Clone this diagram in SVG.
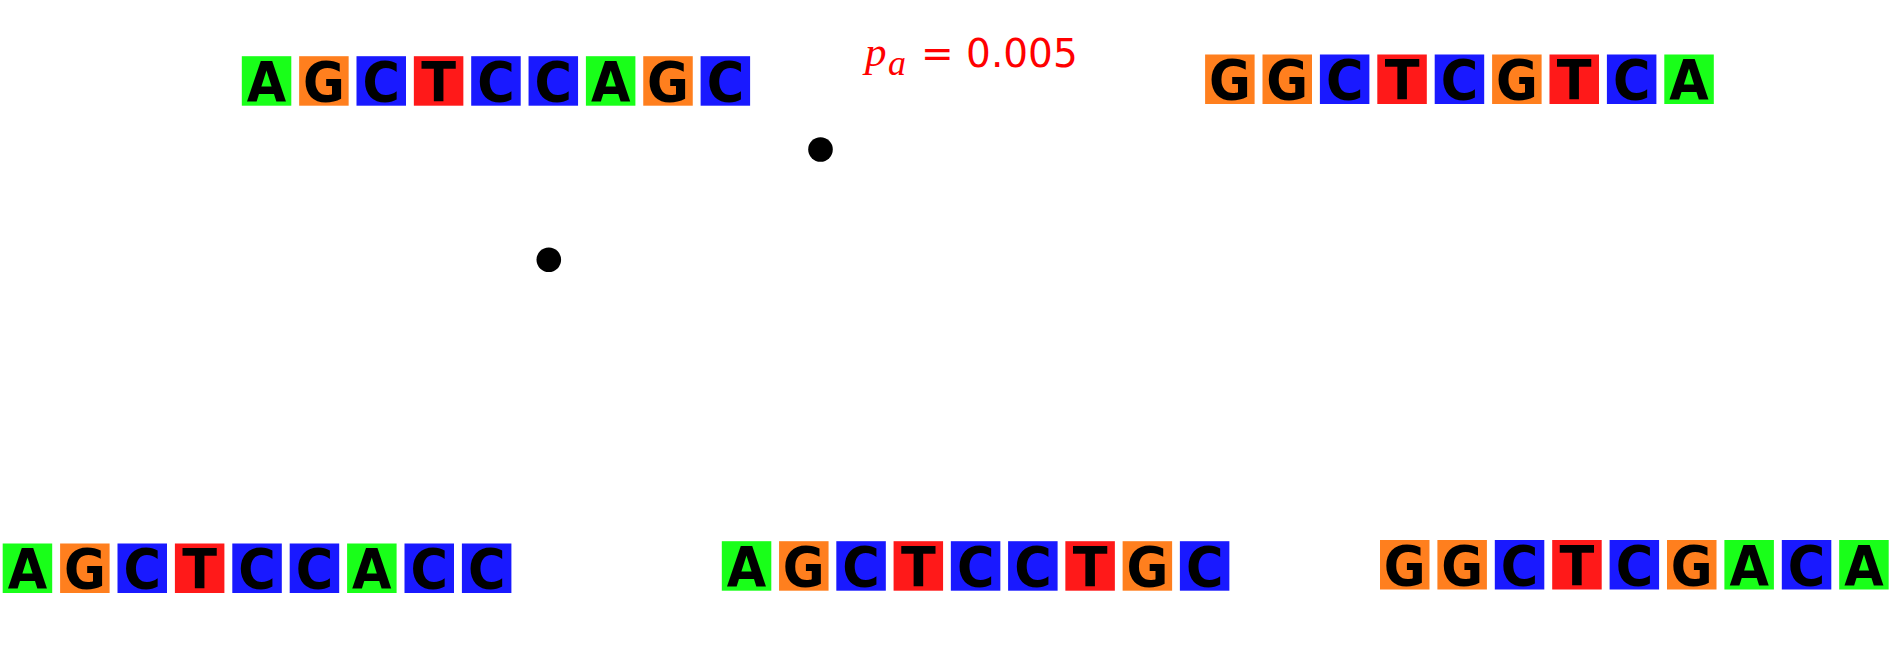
<svg xmlns="http://www.w3.org/2000/svg" width="1892" height="655" viewBox="0 0 1892 655">
<style>
.A{fill:#19ff19}.G{fill:#ff7f1e}.C{fill:#1919ff}.T{fill:#ff1919}
.b{width:49.5px;height:49.5px}
.L{font-family:"DejaVu Sans",sans-serif;font-weight:bold;font-size:51px;fill:#000;text-anchor:middle}
.dot{fill:#000}
.lab{fill:#ff0000}
</style>
<rect width="1892" height="655" fill="#fff"/>
<g id="seq-top-left">
<rect class="b A" x="241.8" y="56.2"/><rect class="b G" x="299.15" y="56.2"/><rect class="b C" x="356.5" y="56.2"/><rect class="b T" x="413.85" y="56.2"/><rect class="b C" x="471.2" y="56.2"/><rect class="b C" x="528.55" y="56.2"/><rect class="b A" x="585.9" y="56.2"/><rect class="b G" x="643.25" y="56.2"/><rect class="b C" x="700.6" y="56.2"/>
<text class="L" y="0" transform="translate(0,100.7) scale(1,1.07)"><tspan x="266.55">A</tspan><tspan x="323.9">G</tspan><tspan x="381.25">C</tspan><tspan x="438.6">T</tspan><tspan x="495.95">C</tspan><tspan x="553.3">C</tspan><tspan x="610.65">A</tspan><tspan x="668">G</tspan><tspan x="725.35">C</tspan></text>
</g>
<g id="seq-top-right">
<rect class="b G" x="1205.1" y="54.5"/><rect class="b G" x="1262.5" y="54.5"/><rect class="b C" x="1319.9" y="54.5"/><rect class="b T" x="1377.3" y="54.5"/><rect class="b C" x="1434.7" y="54.5"/><rect class="b G" x="1492.1" y="54.5"/><rect class="b T" x="1549.5" y="54.5"/><rect class="b C" x="1606.9" y="54.5"/><rect class="b A" x="1664.3" y="54.5"/>
<text class="L" y="0" transform="translate(0,99) scale(1,1.07)"><tspan x="1229.85">G</tspan><tspan x="1287.25">G</tspan><tspan x="1344.65">C</tspan><tspan x="1402.05">T</tspan><tspan x="1459.45">C</tspan><tspan x="1516.85">G</tspan><tspan x="1574.25">T</tspan><tspan x="1631.65">C</tspan><tspan x="1689.05">A</tspan></text>
</g>
<g id="label-pa">
<text class="lab" x="865" y="66" font-family="'Liberation Serif',serif" font-style="italic" font-size="43">p</text>
<text class="lab" x="888" y="75" font-family="'Liberation Serif',serif" font-style="italic" font-size="36">a</text>
<text class="lab" x="921" y="67" font-family="'DejaVu Sans',sans-serif" font-size="39">= 0.005</text>
</g>
<g id="dots">
<circle class="dot" cx="820.5" cy="149.5" r="12.3"/>
<circle class="dot" cx="548.8" cy="259.8" r="12.3"/>
</g>
<g id="seq-bottom-left">
<rect class="b A" x="2.7" y="543.5"/><rect class="b G" x="60.1" y="543.5"/><rect class="b C" x="117.5" y="543.5"/><rect class="b T" x="174.9" y="543.5"/><rect class="b C" x="232.3" y="543.5"/><rect class="b C" x="289.7" y="543.5"/><rect class="b A" x="347.1" y="543.5"/><rect class="b C" x="404.5" y="543.5"/><rect class="b C" x="461.9" y="543.5"/>
<text class="L" y="0" transform="translate(0,588) scale(1,1.07)"><tspan x="27.45">A</tspan><tspan x="84.85">G</tspan><tspan x="142.25">C</tspan><tspan x="199.65">T</tspan><tspan x="257.05">C</tspan><tspan x="314.45">C</tspan><tspan x="371.85">A</tspan><tspan x="429.25">C</tspan><tspan x="486.65">C</tspan></text>
</g>
<g id="seq-bottom-mid">
<rect class="b A" x="721.8" y="541.2"/><rect class="b G" x="779.06" y="541.2"/><rect class="b C" x="836.32" y="541.2"/><rect class="b T" x="893.58" y="541.2"/><rect class="b C" x="950.84" y="541.2"/><rect class="b C" x="1008.1" y="541.2"/><rect class="b T" x="1065.36" y="541.2"/><rect class="b G" x="1122.62" y="541.2"/><rect class="b C" x="1179.88" y="541.2"/>
<text class="L" y="0" transform="translate(0,585.7) scale(1,1.07)"><tspan x="746.55">A</tspan><tspan x="803.81">G</tspan><tspan x="861.07">C</tspan><tspan x="918.33">T</tspan><tspan x="975.59">C</tspan><tspan x="1032.85">C</tspan><tspan x="1090.11">T</tspan><tspan x="1147.37">G</tspan><tspan x="1204.63">C</tspan></text>
</g>
<g id="seq-bottom-right">
<rect class="b G" x="1380" y="540"/><rect class="b G" x="1437.4" y="540"/><rect class="b C" x="1494.8" y="540"/><rect class="b T" x="1552.2" y="540"/><rect class="b C" x="1609.6" y="540"/><rect class="b G" x="1667" y="540"/><rect class="b A" x="1724.4" y="540"/><rect class="b C" x="1781.8" y="540"/><rect class="b A" x="1839.2" y="540"/>
<text class="L" y="0" transform="translate(0,584.5) scale(1,1.07)"><tspan x="1404.75">G</tspan><tspan x="1462.15">G</tspan><tspan x="1519.55">C</tspan><tspan x="1576.95">T</tspan><tspan x="1634.35">C</tspan><tspan x="1691.75">G</tspan><tspan x="1749.15">A</tspan><tspan x="1806.55">C</tspan><tspan x="1863.95">A</tspan></text>
</g>
</svg>
